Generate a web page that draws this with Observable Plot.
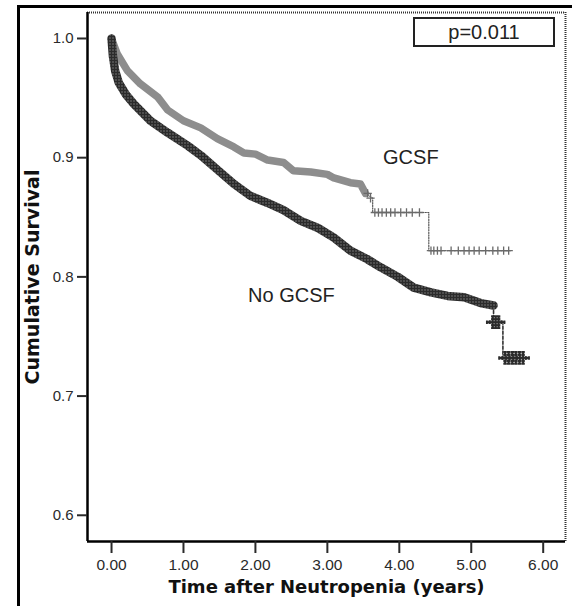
<!DOCTYPE html>
<html><head><meta charset="utf-8">
<script src="https://cdn.jsdelivr.net/npm/d3@7"></script>
<script src="https://cdn.jsdelivr.net/npm/@observablehq/plot@0.6"></script>
<style>
body{margin:0;background:#fff;}
#wrap{position:relative;width:572px;height:606px;overflow:hidden;background:#fff;}
#border{position:absolute;left:17px;top:5px;width:600px;height:700px;border-left:3px solid #000;border-top:3px solid #000;pointer-events:none;}
#pbox{position:absolute;left:413px;top:17px;width:138px;height:26px;border:2px solid #222;font:20px "Liberation Sans",Arial,sans-serif;color:#222;display:flex;align-items:center;justify-content:center;line-height:1;}
</style>
</head><body>
<div id="wrap"><div id="border"></div><div id="pbox">p=0.011</div></div>
<script>
// ---- data ----
const xTicks = [0, 1, 2, 3, 4, 5, 6];
const yTicks = [0.6, 0.7, 0.8, 0.9, 1.0];

// No GCSF Kaplan-Meier curve
const noTime = [0, 0.02, 0.05, 0.10, 0.20, 0.31, 0.54, 0.78, 1.06, 1.24, 1.47, 1.70, 1.93, 2.17, 2.39, 2.63, 2.87, 3.09, 3.32, 3.55, 3.74, 3.98, 4.20, 4.44, 4.67, 4.90, 5.13, 5.31, 5.31, 5.44, 5.44, 5.73];
const noSurv = [1.000, 0.985, 0.973, 0.963, 0.953, 0.945, 0.931, 0.921, 0.910, 0.902, 0.890, 0.878, 0.868, 0.862, 0.856, 0.847, 0.841, 0.833, 0.822, 0.815, 0.808, 0.800, 0.791, 0.787, 0.784, 0.783, 0.778, 0.776, 0.762, 0.762, 0.732, 0.732];
const noCensorTime = [5.30, 5.34, 5.38, 5.47, 5.52, 5.57, 5.62, 5.67, 5.72];
const noCensorSurv = [0.762, 0.762, 0.762, 0.732, 0.732, 0.732, 0.732, 0.732, 0.732];

// GCSF Kaplan-Meier curve
const gTime = [0, 0.03, 0.08, 0.22, 0.40, 0.64, 0.78, 1.00, 1.24, 1.47, 1.70, 1.84, 2.00, 2.17, 2.39, 2.53, 2.77, 3.00, 3.09, 3.32, 3.46, 3.53, 3.63, 3.63, 4.41, 4.41, 5.55];
const gSurv = [1.000, 0.995, 0.987, 0.973, 0.962, 0.951, 0.940, 0.931, 0.925, 0.916, 0.909, 0.904, 0.903, 0.898, 0.896, 0.889, 0.888, 0.886, 0.883, 0.879, 0.878, 0.870, 0.866, 0.854, 0.854, 0.822, 0.822];
const gCensorTime = [3.56, 3.60, 3.66, 3.71, 3.76, 3.82, 3.88, 3.94, 4.02, 4.10, 4.18, 4.28, 4.44, 4.48, 4.53, 4.58, 4.72, 4.82, 4.90, 4.97, 5.04, 5.11, 5.20, 5.30, 5.37, 5.45, 5.52];
const gCensorSurv = [0.870, 0.866, 0.854, 0.854, 0.854, 0.854, 0.854, 0.854, 0.854, 0.854, 0.854, 0.854, 0.822, 0.822, 0.822, 0.822, 0.822, 0.822, 0.822, 0.822, 0.822, 0.822, 0.822, 0.822, 0.822, 0.822, 0.822];

const groupLabels = ["GCSF", "No GCSF"];
const labelTime = [4.16, 2.50];
const labelSurv = [0.900, 0.784];

// ---- build rows ----
const noRows = noTime.map((t, i) => ({t, s: noSurv[i]}));
const gRows = gTime.map((t, i) => ({t, s: gSurv[i]}));
const noCensor = noCensorTime.map((t, i) => ({t, s: noCensorSurv[i]}));
const gCensor = gCensorTime.map((t, i) => ({t, s: gCensorSurv[i]}));
const labels = groupLabels.map((name, i) => ({name, t: labelTime[i], s: labelSurv[i]}));

const xDom = [-0.334, 6.31];
const yDom = [0.578, 1.0218];

const noThick = noRows.filter(d => d.t <= 5.31 && d.s >= 0.776);
const gThick = gRows.filter(d => d.t <= 3.53);
const gThin = gRows.filter(d => d.t >= 3.53);
const noThin = noRows.filter(d => d.t >= 5.31);

const chart = Plot.plot({
  width: 572, height: 606,
  marginLeft: 87, marginTop: 12, marginRight: 7, marginBottom: 65,
  style: {fontFamily: "'Liberation Sans', Arial, sans-serif", background: "transparent", color: "#2a2a2a"},
  x: {domain: xDom},
  y: {domain: yDom},
  marks: [
    // curves
    Plot.line(gThin, {x: "t", y: "s", stroke: "#555", strokeWidth: 1.2, strokeDasharray: "1.2,1.4"}),
    Plot.line(gThick, {x: "t", y: "s", stroke: "url(#grayTex)", strokeWidth: 7.5, strokeLinecap: "round", strokeLinejoin: "round"}),
    Plot.dot(gCensor, {x: "t", y: "s", symbol: "plus", r: 2.8, stroke: "#6a6a6a", strokeWidth: 1.3}),
    Plot.line(noThin, {x: "t", y: "s", stroke: "#333", strokeWidth: 1.6, strokeDasharray: "3,2"}),
    Plot.line(noThick, {x: "t", y: "s", stroke: "url(#darkTex)", strokeWidth: 8.5, strokeLinecap: "round", strokeLinejoin: "round"}),
    Plot.dot(noCensor, {x: "t", y: "s", symbol: "plus", r: 4.5, stroke: "url(#darkTex)", strokeWidth: 3.5}),
    // group labels
    Plot.text(labels, {x: "t", y: "s", text: "name", fontSize: 20, fill: "#222"}),
    // frame
    Plot.ruleY([yDom[1]], {stroke: "#333", strokeWidth: 2, strokeDasharray: "1,1"}),
    Plot.ruleX([xDom[1]], {stroke: "#333", strokeWidth: 2, strokeDasharray: "1,1"}),
    Plot.ruleX([xDom[0]], {stroke: "#000", strokeWidth: 2.5}),
    Plot.ruleY([yDom[0]], {stroke: "#000", strokeWidth: 2.5}),
    // axes
    Plot.axisX(xTicks, {tickSize: 12, tickPadding: 5, strokeWidth: 2, fontSize: 15.5, tickFormat: d3.format(".2f"), label: null}),
    Plot.axisY(yTicks, {tickSize: 10, tickPadding: 4, strokeWidth: 2, fontSize: 15, tickFormat: d3.format(".1f"), label: null}),
    // axis titles
    Plot.text(["Time after Neutropenia (years)"], {frameAnchor: "bottom", dy: 51, fontSize: 18, fontWeight: "bold", fontFamily: "DejaVu Sans", fill: "#111"}),
    Plot.text(["Cumulative Survival"], {frameAnchor: "left", dx: -55, rotate: -90, textAnchor: "middle", fontSize: 19, fontWeight: "bold", fontFamily: "DejaVu Sans", fill: "#111"})
  ]
});

// dithered textures like the printed bands
const defs = d3.select(chart).insert("defs", ":first-child");
const dark = defs.append("pattern").attr("id", "darkTex").attr("patternUnits", "userSpaceOnUse").attr("width", 3).attr("height", 3);
dark.append("rect").attr("width", 3).attr("height", 3).attr("fill", "#2b2b2b");
dark.append("rect").attr("x", 1).attr("y", 1).attr("width", 1).attr("height", 1).attr("fill", "#b8b8b8");
const gray = defs.append("pattern").attr("id", "grayTex").attr("patternUnits", "userSpaceOnUse").attr("width", 2).attr("height", 2);
gray.append("rect").attr("width", 2).attr("height", 2).attr("fill", "#c4c4c4");
gray.append("rect").attr("width", 1).attr("height", 2).attr("fill", "#555");

document.getElementById("wrap").prepend(chart);
</script>
</body></html>
